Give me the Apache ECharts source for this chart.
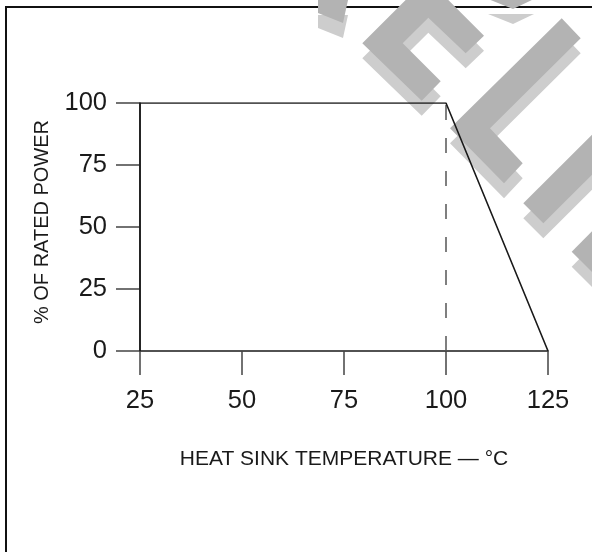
<!DOCTYPE html>
<html>
<head>
<meta charset="utf-8">
<script src="https://cdn.jsdelivr.net/npm/echarts@6/dist/echarts.min.js"></script>
<style>
html,body{margin:0;padding:0;background:#fff;}
#chart{width:592px;height:552px;}
</style>
</head>
<body>
<div id="chart"></div>
<script>
// ---- data ----
var xTicks = [25, 50, 75, 100, 125];
var yTicks = [0, 25, 50, 75, 100];
var curveTemp = [25, 25, 100, 125];
var curvePower = [0, 100, 100, 0];
var kneeTemp = [100, 100];
var kneePower = [0, 100];
var xTitle = 'HEAT SINK TEMPERATURE — °C';
var yTitle = '% OF RATED POWER';

var FONT = 'Liberation Sans, Arial, Helvetica, sans-serif';
var INK = '#1a1a1a';

function zip(a, b) { return a.map(function (v, i) { return [v, b[i]]; }); }

// watermark decoration (background artwork, not data)
var wmShapes = [
  [[318,0],[348,0],[343,23],[318,13]],
  [[427,-21.3],[484,35.7],[465.7,53.3],[428.3,17.7],[402.7,43.3],[440.7,81.3],[421.7,100.7],[362.3,43.3]],
  [[488,-1],[534,-1],[513,9]],
  [[450,128.3],[561.7,18.3],[580.7,38.3],[490,128.3],[522.7,163.3],[504,183.3]],
  [[523.3,203.3],[600,126.7],[600,166.7],[543.3,223.3]],
  [[571.7,251.7],[600,223.3],[600,280]]
];
var graphics = [{
  type: 'rect', z: 0,
  shape: { x: 6, y: 7, width: 700, height: 700 },
  style: { fill: 'none', stroke: '#111', lineWidth: 2 }
}];
wmShapes.forEach(function (pts) {
  graphics.push({ type: 'polygon', z: 1, shape: { points: pts.map(function (p) { return [p[0], p[1] + 15]; }) }, style: { fill: '#cdcdcd' } });
});
wmShapes.forEach(function (pts) {
  graphics.push({ type: 'polygon', z: 1, shape: { points: pts }, style: { fill: '#b3b3b3' } });
});

var chart = echarts.init(document.getElementById('chart'), null, { renderer: 'canvas' });
chart.setOption({
  animation: false,
  backgroundColor: '#fff',
  graphic: graphics,
  grid: { left: 140, right: 44, top: 103, bottom: 201 },
  xAxis: {
    type: 'value', min: xTicks[0], max: xTicks[xTicks.length - 1], interval: xTicks[1] - xTicks[0],
    axisLine: { show: true, onZero: false, lineStyle: { color: INK, width: 1.5 } },
    axisTick: { show: true, length: 24, lineStyle: { color: '#444', width: 1.5 } },
    axisLabel: { fontSize: 25.5, color: INK, margin: 37, fontFamily: FONT },
    splitLine: { show: false },
    name: xTitle, nameLocation: 'middle', nameGap: 98,
    nameTextStyle: { fontSize: 21, color: INK, fontFamily: FONT }
  },
  yAxis: {
    type: 'value', min: yTicks[0], max: yTicks[yTicks.length - 1], interval: yTicks[1] - yTicks[0],
    axisLine: { show: true, onZero: false, lineStyle: { color: INK, width: 1.5 } },
    axisTick: { show: true, length: 24, lineStyle: { color: '#444', width: 1.5 } },
    axisLabel: { fontSize: 25.5, color: INK, margin: 33, fontFamily: FONT },
    splitLine: { show: false },
    name: yTitle, nameLocation: 'middle', nameGap: 88,
    nameTextStyle: { fontSize: 20, color: INK, fontFamily: FONT, padding: [0, 0, 0, 10] }
  },
  series: [
    {
      type: 'line', data: zip(kneeTemp, kneePower), symbol: 'none', z: 3,
      lineStyle: { color: '#555', width: 1.5, type: [15, 18] }
    },
    {
      type: 'line', data: zip(curveTemp, curvePower), symbol: 'none', z: 4,
      lineStyle: { color: INK, width: 1.6 }
    }
  ]
});
</script>
</body>
</html>
